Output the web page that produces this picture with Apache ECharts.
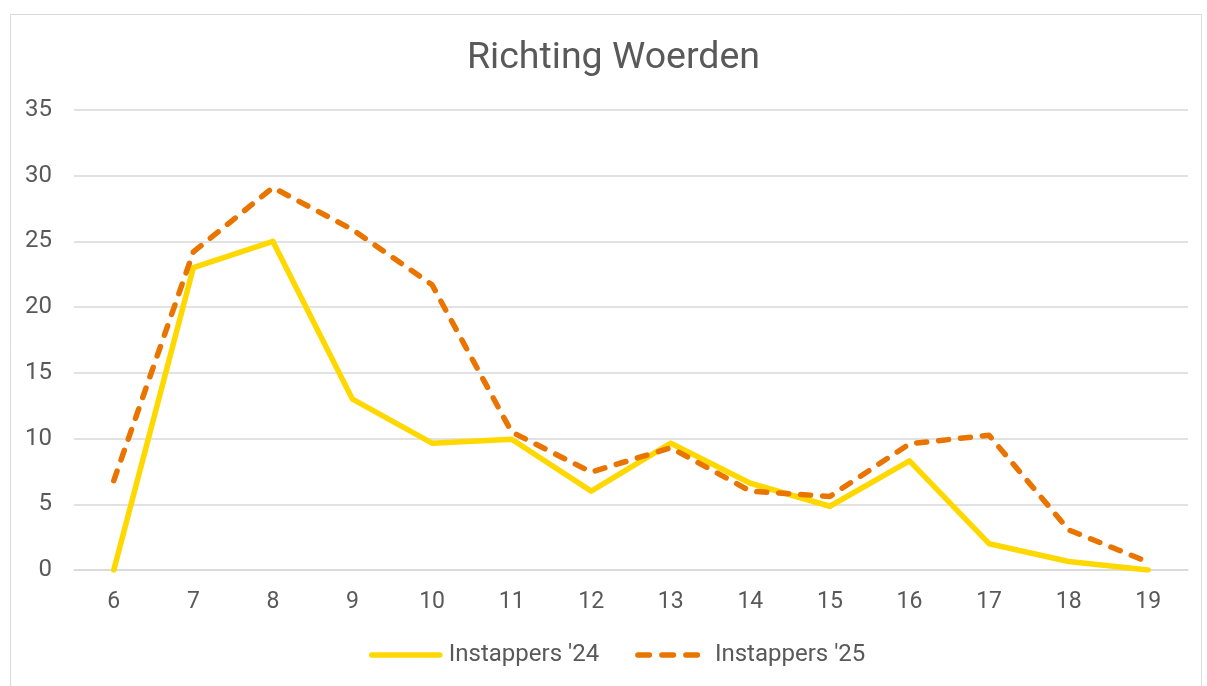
<!DOCTYPE html>
<html>
<head>
<meta charset="utf-8">
<script src="https://cdn.jsdelivr.net/npm/echarts@6/dist/echarts.min.js"></script>
<style>
html,body{margin:0;padding:0;background:#fff;}
#chart{width:1207px;height:686px;}
</style>
</head>
<body>
<div id="chart"></div>
<script>
const categories = ['6','7','8','9','10','11','12','13','14','15','16','17','18','19'];
const instappers24 = [0, 23.0, 25.0, 13.0, 9.65, 9.95, 6.0, 9.65, 6.6, 4.85, 8.3, 2.0, 0.65, 0];
const instappers25 = [6.8, 24.2, 29.1, 25.9, 21.7, 10.5, 7.45, 9.3, 6.0, 5.6, 9.6, 10.25, 3.05, 0.6];
const seriesNames = ["Instappers '24", "Instappers '25"];
const titleText = 'Richting Woerden';

const chart = echarts.init(document.getElementById('chart'), null, {renderer: 'canvas'});
const textColor = '#595959';
const font = 'Roboto, "Noto Sans", sans-serif';
chart.setOption({
  animation: false,
  backgroundColor: '#fff',
  graphic: [{
    type: 'rect', left: 8, top: 12, z: -1,
    shape: {width: 1191, height: 700},
    style: {fill: 'none', stroke: '#D9D9D9', lineWidth: 1}
  }],
  title: {
    text: titleText, left: 462, top: 35,
    textStyle: {color: textColor, fontSize: 37.5, fontWeight: 'normal', fontFamily: font}
  },
  legend: {
    bottom: 14, left: 364, itemWidth: 68, itemHeight: 14, itemGap: 36,
    itemStyle: {opacity: 0},
    lineStyle: {width: 5.5, cap: 'round'},
    textStyle: {color: textColor, fontSize: 24, fontFamily: font, padding: [0, 0, 0, 4]},
    data: [
      {name: seriesNames[0]},
      {name: seriesNames[1], lineStyle: {width: 5.5, cap: 'round', type: [11.5, 12.5]}}
    ]
  },
  grid: {left: 74, right: 19, top: 110, bottom: 116},
  xAxis: {
    type: 'category', data: categories, boundaryGap: true,
    axisLine: {lineStyle: {color: '#D9D9D9', width: 1.5}},
    axisTick: {show: false},
    axisLabel: {color: textColor, fontSize: 23, fontFamily: font, margin: 21}
  },
  yAxis: {
    type: 'value', min: 0, max: 35, interval: 5,
    axisLine: {show: false}, axisTick: {show: false},
    splitLine: {lineStyle: {color: '#D9D9D9', width: 1.5}},
    axisLabel: {color: textColor, fontSize: 24, fontFamily: font, margin: 22}
  },
  series: [
    {
      name: seriesNames[0], type: 'line', data: instappers24, symbol: 'none',
      lineStyle: {color: '#FFD800', width: 5.5, cap: 'round', join: 'round'},
      itemStyle: {color: '#FFD800'}
    },
    {
      name: seriesNames[1], type: 'line', data: instappers25, symbol: 'none',
      lineStyle: {color: '#E97500', width: 5.5, type: [10, 12], cap: 'round', join: 'round'},
      itemStyle: {color: '#E97500'}
    }
  ]
});
</script>
</body>
</html>
